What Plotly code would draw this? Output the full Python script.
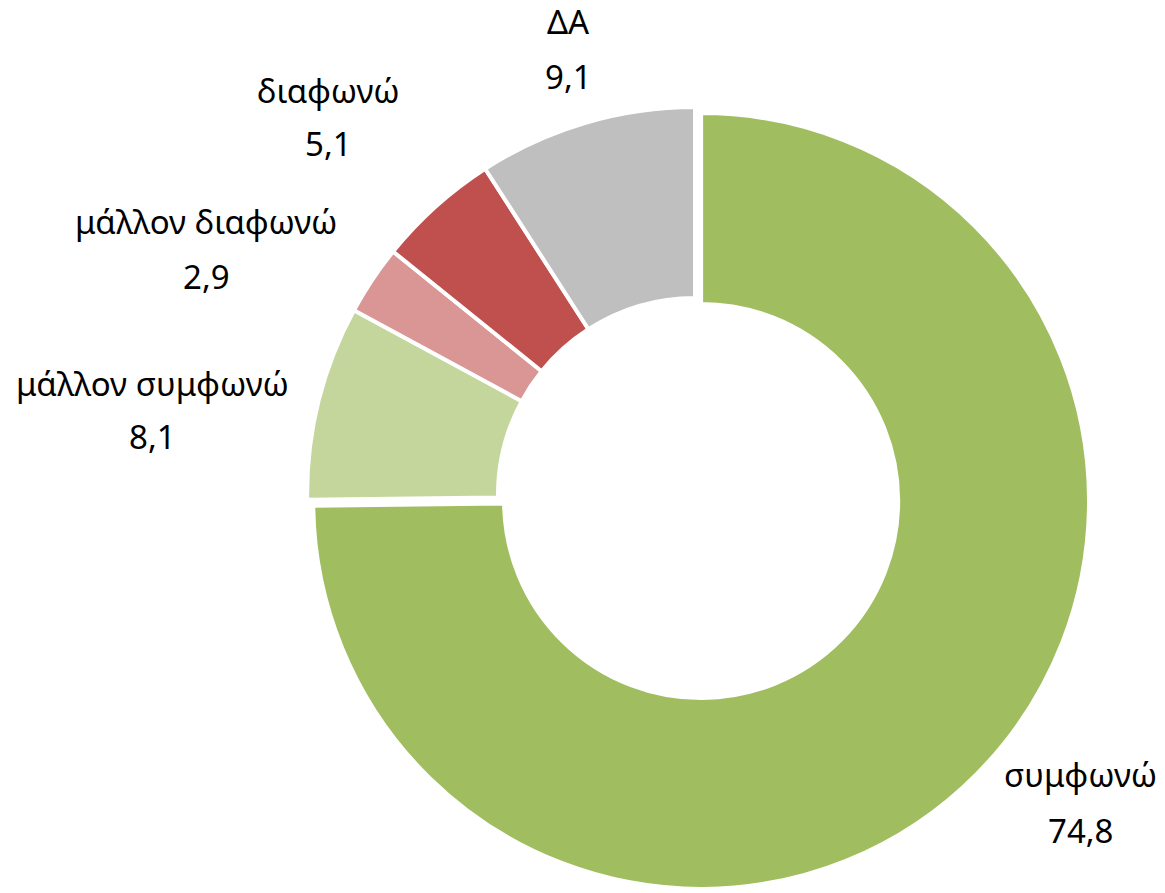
import plotly.graph_objects as go

labels = ["συμφωνώ", "μάλλον συμφωνώ", "μάλλον διαφωνώ", "διαφωνώ", "ΔΑ"]
values = [74.8, 8.1, 2.9, 5.1, 9.1]
colors = ["#A0BE60", "#C4D69C", "#D99694", "#C0504D", "#BFBFBF"]
pulls = [0.022, 0, 0, 0, 0]

# label text positions (pixel: x center, name line y, value line y)
W, H = 1165, 893
label_pos = [(1080, 774, 830), (152, 384, 437), (206, 222, 277), (328, 90, 144), (568, 21, 76)]

fig = go.Figure()
fig.add_trace(go.Pie(
    labels=labels, values=values, sort=False, direction="clockwise", rotation=0,
    hole=0.508, pull=pulls,
    marker=dict(colors=colors, line=dict(color="white", width=4)),
    textinfo="none", hoverinfo="label+value", showlegend=False,
    domain=dict(x=[0.2563, 0.9369], y=[0.0017, 0.8897]),
))

font = dict(family="Noto Sans, Open Sans, sans-serif", size=33, color="#000000")
anns = []
for lab, val, (px, py1, py2) in zip(labels, values, label_pos):
    anns.append(dict(x=px / W, y=1 - py1 / H, xref="paper", yref="paper", text=lab,
                     showarrow=False, xanchor="center", yanchor="middle", font=font))
    anns.append(dict(x=px / W, y=1 - py2 / H, xref="paper", yref="paper",
                     text=f"{val:.1f}".replace(".", ","),
                     showarrow=False, xanchor="center", yanchor="middle", font=font))

fig.update_layout(
    width=W, height=H, margin=dict(l=0, r=0, t=0, b=0),
    paper_bgcolor="white", plot_bgcolor="white",
    annotations=anns, separators=",.",
)
fig.write_html("out.html", config={"displayModeBar": False},
               post_script="document.body.style.margin='0';document.body.style.overflow='hidden';")
